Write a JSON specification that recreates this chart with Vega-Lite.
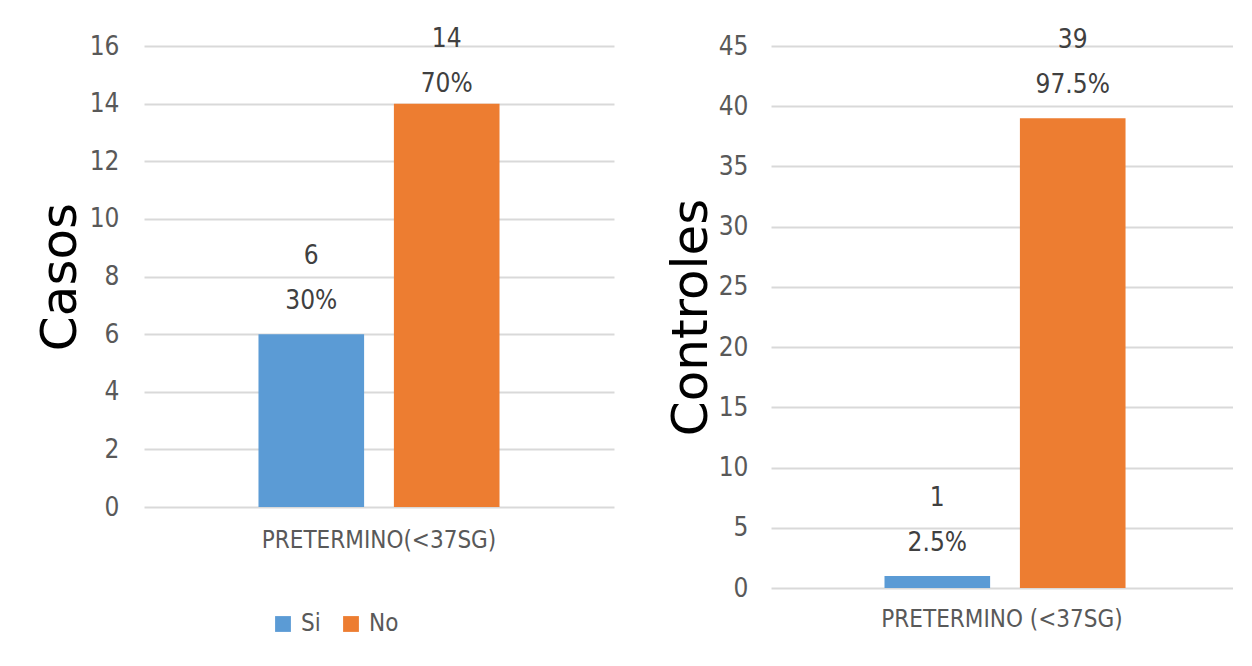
{
  "$schema": "https://vega.github.io/schema/vega-lite/v6.json",
  "background": "white",
  "padding": {"left": 35, "top": 25, "right": 0, "bottom": 0},
  "bounds": "flush",
  "spacing": 157,
  "datasets": {
    "casos": [
      {"grupo": "PRETERMINO(<37SG)", "respuesta": "Si", "n": 6, "pct": 0.30},
      {"grupo": "PRETERMINO(<37SG)", "respuesta": "No", "n": 14, "pct": 0.70}
    ],
    "controles": [
      {"grupo": "PRETERMINO (<37SG)", "respuesta": "Si", "n": 1, "pct": 0.025},
      {"grupo": "PRETERMINO (<37SG)", "respuesta": "No", "n": 39, "pct": 0.975}
    ]
  },
  "config": {
    "view": {"stroke": null},
    "font": "DejaVu Sans Condensed, sans-serif",
    "axis": {
      "domain": false,
      "ticks": false,
      "labelFontSize": 26,
      "labelColor": "#595959",
      "labelLimit": 0,
      "gridColor": "#D9D9D9",
      "gridWidth": 2,
      "titleFont": "DejaVu Sans",
      "titleFontSize": 50,
      "titleFontWeight": "normal",
      "titleColor": "#000000"
    },
    "text": {"fontSize": 26, "color": "#404040", "baseline": "middle"}
  },
  "resolve": {"scale": {"color": "independent"}, "legend": {"color": "independent"}},
  "hconcat": [
    {
      "width": 470,
      "height": 461,
      "data": {"name": "casos"},
      "encoding": {
        "x": {
          "field": "grupo", "type": "nominal", "title": null,
          "scale": {"paddingOuter": 0.475, "paddingInner": 0},
          "axis": {"labelAngle": 0, "labelPadding": 21, "labelFontSize": 24, "grid": false}
        },
        "xOffset": {
          "field": "respuesta", "type": "nominal", "sort": ["Si", "No"],
          "scale": {"paddingInner": 0.22, "paddingOuter": 0}
        },
        "y": {
          "field": "n", "type": "quantitative", "title": "Casos",
          "scale": {"domain": [0, 16], "nice": false},
          "axis": {"values": [0, 2, 4, 6, 8, 10, 12, 14, 16], "labelPadding": 25, "titlePadding": 4}
        }
      },
      "layer": [
        {
          "mark": {"type": "bar"},
          "encoding": {
            "color": {
              "field": "respuesta", "type": "nominal",
              "scale": {"domain": ["Si", "No"], "range": ["#5B9BD5", "#ED7D31"]},
              "legend": {
                "title": null, "orient": "none", "legendX": 127, "legendY": 566,
                "direction": "horizontal", "symbolType": "square", "symbolSize": 250,
                "symbolStrokeWidth": 0, "labelFontSize": 24, "labelColor": "#595959",
                "columnPadding": 18, "labelOffset": 6
              }
            }
          }
        },
        {
          "transform": [{"filter": "datum.n < 10"}],
          "mark": {"type": "text", "dy": -33},
          "encoding": {"text": {"field": "pct", "type": "quantitative", "format": ".1~%"}}
        },
        {
          "transform": [{"filter": "datum.n < 10"}],
          "mark": {"type": "text", "dy": -78},
          "encoding": {"text": {"field": "n", "type": "quantitative"}}
        },
        {
          "transform": [{"filter": "datum.n >= 10"}],
          "mark": {"type": "text", "dy": -20},
          "encoding": {"text": {"field": "pct", "type": "quantitative", "format": ".1~%"}}
        },
        {
          "transform": [{"filter": "datum.n >= 10"}],
          "mark": {"type": "text", "dy": -65},
          "encoding": {"text": {"field": "n", "type": "quantitative"}}
        }
      ]
    },
    {
      "width": 462,
      "height": 542,
      "data": {"name": "controles"},
      "encoding": {
        "x": {
          "field": "grupo", "type": "nominal", "title": null,
          "scale": {"paddingOuter": 0.483, "paddingInner": 0},
          "axis": {"labelAngle": 0, "labelPadding": 19, "labelFontSize": 24, "grid": false}
        },
        "xOffset": {
          "field": "respuesta", "type": "nominal", "sort": ["Si", "No"],
          "scale": {"paddingInner": 0.22, "paddingOuter": 0}
        },
        "y": {
          "field": "n", "type": "quantitative", "title": "Controles",
          "scale": {"domain": [0, 45], "nice": false},
          "axis": {"values": [0, 5, 10, 15, 20, 25, 30, 35, 40, 45], "labelPadding": 23, "titlePadding": 2}
        }
      },
      "layer": [
        {
          "mark": {"type": "bar"},
          "encoding": {
            "color": {
              "field": "respuesta", "type": "nominal",
              "scale": {"domain": ["Si", "No"], "range": ["#5B9BD5", "#ED7D31"]},
              "legend": null
            }
          }
        },
        {
          "mark": {"type": "text", "dy": -33},
          "encoding": {"text": {"field": "pct", "type": "quantitative", "format": ".1~%"}}
        },
        {
          "mark": {"type": "text", "dy": -78},
          "encoding": {"text": {"field": "n", "type": "quantitative"}}
        }
      ]
    }
  ]
}
